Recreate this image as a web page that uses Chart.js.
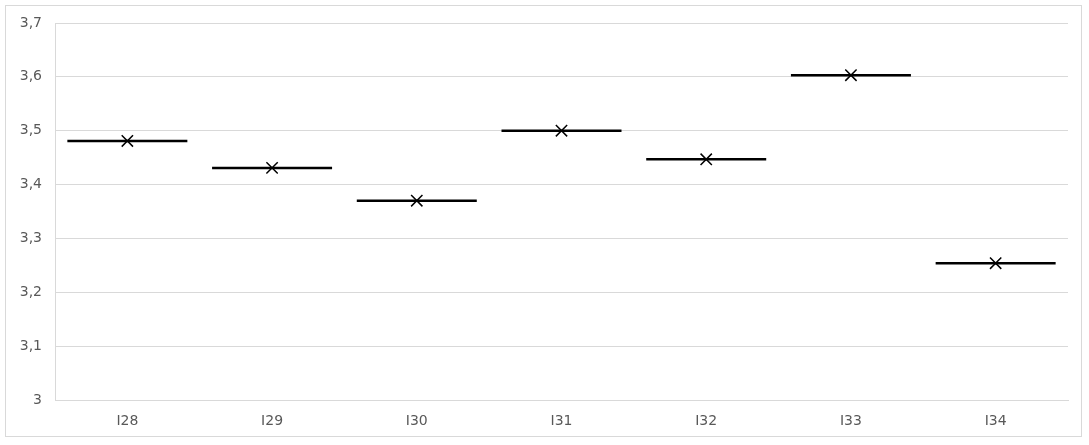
<!DOCTYPE html>
<html>
<head>
<meta charset="utf-8">
<script src="https://cdn.jsdelivr.net/npm/chart.js@4/dist/chart.umd.min.js"></script>
<style>
  html, body { margin: 0; padding: 0; background: #fff; }
  #box { position: absolute; left: 5px; top: 5px; width: 1075px; height: 430px; border: 1px solid #d9d9d9; }
</style>
</head>
<body>
<div id="box"><canvas id="chart" width="1075" height="430"></canvas></div>
<script>
// values
const categories = ['I28', 'I29', 'I30', 'I31', 'I32', 'I33', 'I34'];
const medianValues = [3.481, 3.431, 3.370, 3.500, 3.447, 3.603, 3.254];
const meanValues = [3.481, 3.431, 3.370, 3.500, 3.447, 3.603, 3.254];
const yMin = 3;
const yMax = 3.7;
const yStep = 0.1;

const fmt = v => String(Math.round(v * 10) / 10).replace('.', ',');

new Chart(document.getElementById('chart'), {
  type: 'line',
  data: {
    labels: categories,
    datasets: [
      {
        label: 'median',
        data: medianValues,
        showLine: false,
        pointStyle: 'line',
        pointRadius: 60,
        pointBorderWidth: 2.5,
        pointBorderColor: '#000',
        pointBackgroundColor: '#000'
      },
      {
        label: 'mean',
        data: meanValues,
        showLine: false,
        pointStyle: 'crossRot',
        pointRadius: 8,
        pointBorderWidth: 1.5,
        pointBorderColor: '#000',
        pointBackgroundColor: '#000'
      }
    ]
  },
  options: {
    responsive: false,
    animation: false,
    events: [],
    layout: { autoPadding: false, padding: { top: 17, right: 13, left: 0, bottom: 0 } },
    plugins: { legend: { display: false }, tooltip: { enabled: false } },
    scales: {
      x: {
        offset: true,
        grid: { display: false, drawTicks: false },
        border: { color: '#d9d9d9', width: 1 },
        ticks: { color: '#595959', font: { family: 'DejaVu Sans', size: 14 }, padding: 13 },
        afterFit: s => { s.height = 36; }
      },
      y: {
        min: yMin,
        max: yMax,
        grid: { color: '#d9d9d9', lineWidth: 1, drawTicks: false },
        border: { color: '#d9d9d9', width: 1 },
        ticks: {
          stepSize: yStep,
          color: '#595959',
          font: { family: 'DejaVu Sans', size: 14 },
          padding: 13,
          callback: v => fmt(v)
        },
        afterFit: s => {
          s.width = 49;
          s.paddingTop = 0;
          s.paddingBottom = 0;
        }
      }
    }
  }
});
</script>
</body>
</html>
